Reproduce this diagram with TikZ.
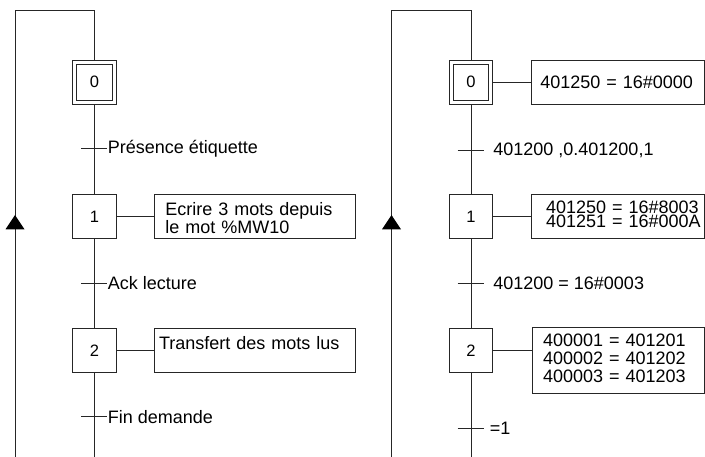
\documentclass[tikz,border=0pt]{standalone}
\usepackage{fontspec}
\setmainfont{Liberation Sans}
\begin{document}
\begin{tikzpicture}[x=1pt,y=-1pt, line width=0.8pt, draw=black!85,
  stepbox/.style={draw, minimum size=43.7pt, inner sep=0pt, font=\fontsize{16.5}{18}\selectfont},
  innerbox/.style={draw, minimum size=35.5pt, inner sep=0pt},
  actbox/.style={draw, anchor=north west, inner sep=0pt, align=left},
  trlabel/.style={anchor=west, inner sep=0pt, font=\fontsize{18}{20}\selectfont},
  arrowtri/.style={fill=black},
]
\useasboundingbox (0,0) rectangle (705,457);

% ---------------- left chart ----------------
\node[stepbox] (L0) at (94.5,82.2) {0};
\node[innerbox] (L0i) at (L0.center) {};
\node[stepbox] (L1) at (94.5,216.4) {1};
\node[stepbox] (L2) at (94.5,350.3) {2};

\coordinate (LTop) at (94.5,10);
\coordinate (LCorner) at (15,10);
\coordinate (LLoopEnd) at (15,457);
\coordinate (LEnd) at (94.5,457);
\coordinate (LArr) at (15,229.3);

\draw (L0.north) -- (LTop) -- (LCorner) -- (LLoopEnd);
\draw (L0) -- (L1);
\draw (L1) -- (L2);
\draw (L2) -- (LEnd);
\fill[arrowtri] (LArr) ++(0,-14.3) -- ++(-9.5,14.3) -- ++(19,0) -- cycle;

% transitions
\coordinate (LT1) at (94.5,148.3);
\coordinate (LT2) at (94.5,283.3);
\coordinate (LT3) at (94.5,416.7);
\foreach \t in {LT1,LT2,LT3} \draw ([xshift=-13.5pt]\t) -- ([xshift=12.5pt]\t);
\node[trlabel] (LL1) at (107.5,148.3) {Présence étiquette};
\node[trlabel] (LL2) at (107.5,283.3) {Ack lecture};
\node[trlabel] (LL3) at (107.5,416.7) {Fin demande};

% actions
\node[actbox, text width=200.5pt, text height=20.5pt, text depth=23.5pt,
      font=\fontsize{18}{14}\selectfont] (LA1) at (154,194.5)
      {\hspace*{11pt}Ecrire 3 mots depuis\\\hspace*{11pt}le mot \%MW10};
\node[actbox, text width=200.5pt, text height=21pt, text depth=23pt,
      font=\fontsize{18}{14}\selectfont] (LA2) at (154,328.3)
      {\hspace*{4.7pt}Transfert des mots lus};
\draw (L1.east) -- (L1.east -| LA1.west);
\draw (L2.east) -- (L2.east -| LA2.west);

% ---------------- right chart ----------------
\node[stepbox] (R0) at (471,82.2) {0};
\node[innerbox] (R0i) at (R0.center) {};
\node[stepbox] (R1) at (471,216.4) {1};
\node[stepbox] (R2) at (471,350.3) {2};

\coordinate (RTop) at (471,10);
\coordinate (RCorner) at (391.5,10);
\coordinate (RLoopEnd) at (391.5,457);
\coordinate (REnd) at (471,457);
\coordinate (RArr) at (391.5,229.3);

\draw (R0.north) -- (RTop) -- (RCorner) -- (RLoopEnd);
\draw (R0) -- (R1);
\draw (R1) -- (R2);
\draw (R2) -- (REnd);
\fill[arrowtri] (RArr) ++(0,-14.3) -- ++(-9.5,14.3) -- ++(19,0) -- cycle;

\coordinate (RT1) at (471,150);
\coordinate (RT2) at (471,283.3);
\coordinate (RT3) at (471,428.3);
\foreach \t in {RT1,RT2,RT3} \draw ([xshift=-13.3pt]\t) -- ([xshift=13.3pt]\t);
\node[trlabel] (RL1) at (493,150) {401200 ,0.401200,1};
\node[trlabel] (RL2) at (493,283.3) {401200 = 16\#0003};
\node[trlabel] (RL3) at (489.5,428.3) {=1};

\node[actbox, text width=173.3pt, text height=28.2pt, text depth=15.8pt,
      font=\fontsize{18}{14}\selectfont] (RA0) at (530.7,60.3)
      {\hspace*{9.3pt}401250 = 16\#0000};
\node[actbox, text width=173pt, text height=18.8pt, text depth=24.7pt,
      font=\fontsize{18}{14}\selectfont] (RA1) at (531,194.5)
      {\hspace*{14.7pt}401250 = 16\#8003\\\hspace*{14.7pt}401251 = 16\#000A};
\node[actbox, text width=171.7pt, text height=19pt, text depth=47.5pt,
      font=\fontsize{18}{18.2}\selectfont] (RA2) at (532.3,327)
      {\hspace*{10.4pt}400001 = 401201\\\hspace*{10.4pt}400002 = 401202\\\hspace*{10.4pt}400003 = 401203};
\draw (R0.east) -- (R0.east -| RA0.west);
\draw (R1.east) -- (R1.east -| RA1.west);
\draw (R2.east) -- (R2.east -| RA2.west);
\end{tikzpicture}
\end{document}
